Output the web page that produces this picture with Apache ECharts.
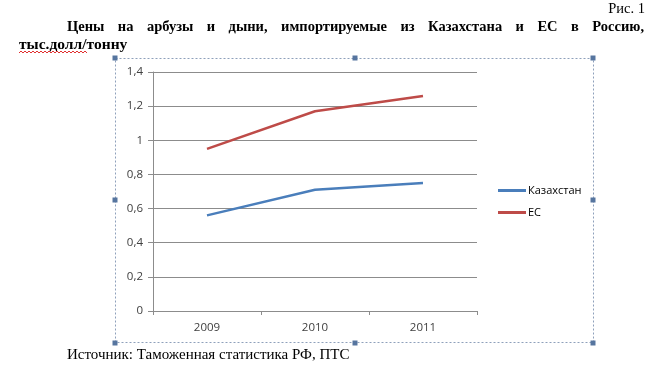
<!DOCTYPE html>
<html><head><meta charset="utf-8">
<script src="https://cdn.jsdelivr.net/npm/echarts@6/dist/echarts.min.js"></script>
<style>html,body{margin:0;padding:0;background:#fff}#c{width:653px;height:372px}</style>
</head><body><div id="c"></div>
<script>
const categories = ['2009', '2010', '2011'];
const kazakhstan = [0.56, 0.71, 0.75];
const eu = [0.95, 1.17, 1.26];
const seriesNames = ['Казахстан', 'ЕС'];
const yTicks = { min: 0, max: 1.4, interval: 0.2 };
const titleLine1 = 'Цены на арбузы и дыни, импортируемые из Казахстана и ЕС в Россию,';
const titleLine2 = 'тыс.долл/тонну';
const figLabel = 'Рис. 1';
const sourceText = 'Источник: Таможенная статистика РФ, ПТС';

const chart = echarts.init(document.getElementById('c'), null, {renderer:'canvas'});
const serif = '"Liberation Serif", "Times New Roman", serif';
const sans = '"Open Sans", "Liberation Sans", sans-serif';
const titleFont = 'bold 14.5px ' + serif;
const graphic = [];
// frame
graphic.push({type:'rect', shape:{x:115.5,y:58.5,width:478,height:284}, style:{fill:'none', stroke:'#8ea0bb', lineWidth:1, lineDash:[2,2]}, z:0});
[[115,58],[355,58],[593,58],[115,200],[593,200],[115,343],[355,343],[593,343]].forEach(p=>{
  graphic.push({type:'rect', shape:{x:p[0]-2.5,y:p[1]-2.5,width:5,height:5}, style:{fill:'#56759f'}, z:5});
});
graphic.push({type:'text', style:{text:figLabel, x:645, y:9, textAlign:'right', textVerticalAlign:'middle', font:'14.5px '+serif, fill:'#000'}});
// justified first title line
const ctx = document.createElement('canvas').getContext('2d');
ctx.font = titleFont;
const words = titleLine1.split(' ');
const widths = words.map(w=>ctx.measureText(w).width);
const L = 67, R = 644;
const gap = (R - L - widths.reduce((a,b)=>a+b,0)) / (words.length - 1);
let x = L;
words.forEach((w,i)=>{
  graphic.push({type:'text', style:{text:w, x:x, y:27, textAlign:'left', textVerticalAlign:'middle', font:titleFont, fill:'#000'}});
  x += widths[i] + gap;
});
graphic.push({type:'text', style:{text:titleLine2, x:19, y:45, textAlign:'left', textVerticalAlign:'middle', font:'bold 15.5px '+serif, fill:'#000'}});
// spell-check wavy underline
const wave = [];
for (let xx=19, i=0; xx<=88; xx+=2, i++) wave.push([xx, i%2 ? 51 : 53]);
graphic.push({type:'polyline', shape:{points:wave}, style:{stroke:'#e03030', lineWidth:1, fill:'none'}});
graphic.push({type:'text', style:{text:sourceText, x:67, y:355, textAlign:'left', textVerticalAlign:'middle', font:'15px '+serif, fill:'#000'}});

chart.setOption({
  animation:false,
  backgroundColor:'#fff',
  grid:{left:153, top:72, right:176, bottom:61, containLabel:false},
  legend:{
    orient:'vertical', left:493, top:180, itemGap:11, itemWidth:28, itemHeight:3,
    icon:'rect',
    textStyle:{fontFamily:sans, fontSize:11, color:'#000', padding:[0,0,0,-3]},
    data:seriesNames
  },
  xAxis:{
    type:'category', data:categories, boundaryGap:true,
    axisLine:{lineStyle:{color:'#8c8c8c'}},
    axisTick:{show:true, length:4, alignWithLabel:false, lineStyle:{color:'#8c8c8c'}},
    axisLabel:{fontFamily:sans, fontSize:11.5, color:'#404040', margin:11}
  },
  yAxis:{
    type:'value', min:yTicks.min, max:yTicks.max, interval:yTicks.interval,
    axisLine:{show:true, lineStyle:{color:'#8c8c8c'}},
    axisTick:{show:true, length:5, lineStyle:{color:'#8c8c8c'}},
    splitLine:{lineStyle:{color:'#8c8c8c'}},
    axisLabel:{fontFamily:sans, fontSize:11.5, color:'#404040', margin:10,
      formatter:v=>String(Math.round(v*10)/10).replace('.',',')}
  },
  series:[
    {name:seriesNames[0], type:'line', data:kazakhstan, symbol:'none', lineStyle:{color:'#4a7ebb', width:2.5}, itemStyle:{color:'#4a7ebb'}},
    {name:seriesNames[1], type:'line', data:eu, symbol:'none', lineStyle:{color:'#be4b48', width:2.5}, itemStyle:{color:'#be4b48'}}
  ],
  graphic:graphic
});
</script></body></html>
